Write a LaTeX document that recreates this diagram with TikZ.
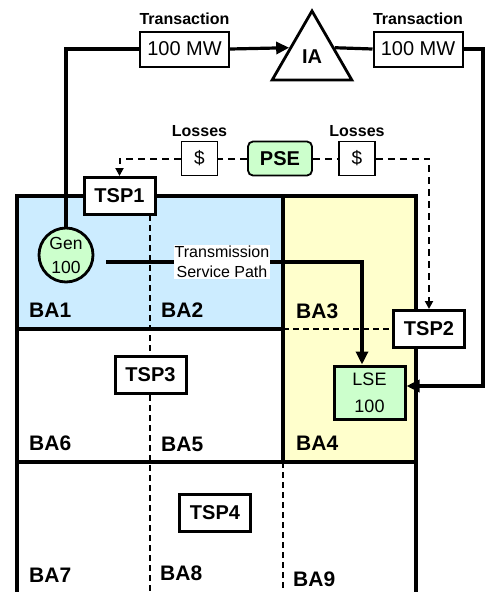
\documentclass[tikz,border=0pt]{standalone}
\usepackage{fontspec}
\setmainfont{Liberation Sans}
\usetikzlibrary{arrows.meta,positioning,shapes.geometric,calc}
\definecolor{baBlue}{HTML}{CCECFF}
\definecolor{baYellow}{HTML}{FFFFCC}
\definecolor{entGreen}{HTML}{CCFFCC}

\begin{document}
\begin{tikzpicture}[
  x=1pt, y=-1pt,
  tspbox/.style={rectangle, draw, line width=3pt, fill=white, minimum width=71pt, minimum height=37pt, inner sep=0pt, font=\fontsize{20}{24}\selectfont\bfseries},
  mwbox/.style={rectangle, draw, line width=2pt, fill=white, minimum width=89pt, minimum height=35pt, inner sep=0pt, font=\fontsize{20}{24}\selectfont},
  lossbox/.style={rectangle, draw, line width=1.5pt, fill=white, minimum width=36pt, minimum height=34pt, inner sep=0pt, font=\fontsize{19}{24}\selectfont},
  toplabel/.style={inner sep=0pt, font=\fontsize{16}{19}\selectfont\bfseries},
  balabel/.style={anchor=west, inner sep=0pt, font=\fontsize{21}{24}\selectfont\bfseries},
  baline/.style={line width=3.2pt},
  bacut/.style={line width=2pt, dash pattern=on 6pt off 4pt},
  arrow/.style={line width=3.2pt, -{Triangle[length=13pt,width=12pt]}},
  lossarrow/.style={line width=2pt, dash pattern=on 7pt off 5pt, -{Triangle[length=8pt,width=8pt]}}
]
\useasboundingbox (0,0) rectangle (490,592);

% balancing authority areas
\fill[baBlue] (17,196) rectangle (283,329);
\fill[baYellow] (283,196) rectangle (416,462);
\draw[baline] (17,594) -- (17,196) -- (416,196) -- (416,594);
\draw[baline] (17,329) -- (283,329);
\draw[baline] (17,462) -- (416,462);
\draw[baline] (283,196) -- (283,462);
\draw[bacut] (283,462) -- (283,594);
\draw[bacut] (150,215) -- (150,594);
\draw[bacut] (283,329) -- (400,329);

\node[balabel] (ba1) at (29,310) {BA1};
\node[balabel] (ba2) at (161,310) {BA2};
\node[balabel] (ba3) at (296,311) {BA3};
\node[balabel] (ba6) at (29,443) {BA6};
\node[balabel] (ba5) at (161,444) {BA5};
\node[balabel] (ba4) at (296,443) {BA4};
\node[balabel] (ba7) at (29,575) {BA7};
\node[balabel] (ba8) at (160,573) {BA8};
\node[balabel] (ba9) at (293,579) {BA9};

% transmission service providers
\node[tspbox] (tsp1) at (119.5,196) {TSP1};
\node[tspbox] (tsp2) at (429,329) {TSP2};
\node[tspbox] (tsp3) at (150.5,375) {TSP3};
\node[tspbox] (tsp4) at (215,513) {TSP4};

% generator and load
\node[circle, draw, line width=2.8pt, fill=entGreen, minimum size=54pt, inner sep=0pt, align=center,
  font=\fontsize{17.5}{24}\selectfont] (gen) at (66,255) {Gen\\100};
\node[rectangle, draw, line width=3pt, fill=entGreen, minimum width=71pt, minimum height=53pt, inner sep=0pt, align=center,
  font=\fontsize{18}{27}\selectfont] (lse) at (369.5,392.5) {LSE\\100};

% transaction
\node[regular polygon, regular polygon sides=3, draw, line width=2.8pt, fill=white, minimum size=92pt, inner sep=0pt,
  font=\fontsize{20}{24}\selectfont\bfseries] (ia) at (312,57) {IA};
\node[mwbox] (mw1) at (184.5,49) {100 MW};
\node[mwbox] (mw2) at (418,49) {100 MW};
\node[toplabel, above=6pt of mw1] (tr1) {Transaction};
\node[toplabel, above=6pt of mw2] (tr2) {Transaction};
\coordinate (iain) at ($(ia.corner 2)!0.46!(ia.corner 1)$);
\coordinate (iaout) at ($(ia.corner 3)!0.46!(ia.corner 1)$);
\coordinate (rtcorner) at (483,386);

\draw[line width=3.2pt] (gen.north) |- (mw1.west);
\draw[arrow] (mw1.east) -- (iain);
\draw[line width=3.2pt] (iaout) -- (mw2.west);
\draw[arrow] (mw2.east) -| (rtcorner) -- (rtcorner -| lse.east);

% losses
\node[rectangle, rounded corners=5pt, draw, line width=1.8pt, fill=entGreen, minimum width=64pt, minimum height=34pt, inner sep=0pt,
  font=\fontsize{20}{24}\selectfont\bfseries] (pse) at (280,158.5) {PSE};
\node[lossbox] (loss1) at (199.5,158.5) {\$};
\node[lossbox] (loss2) at (357,158.5) {\$};
\node[toplabel, above=4pt of loss1] (lb1) {Losses};
\node[toplabel, above=4pt of loss2] (lb2) {Losses};
\draw[lossarrow, -] (pse.west) -- (loss1.east);
\draw[lossarrow, -] (pse.east) -- (loss2.west);
\draw[lossarrow] (loss1.west) -| (tsp1.north);
\draw[lossarrow] (loss2.east) -| (tsp2.north);

% transmission service path
\coordinate (pathstart) at (106,262);
\coordinate (pathbend) at (362,262);
\draw[arrow] (pathstart) -- (pathbend) -- (pathbend |- lse.north);
\node[fill=white, inner sep=1pt, align=center, font=\fontsize{16}{20}\selectfont] (tsplabel) at (222,262) {Transmission\\Service Path};

\end{tikzpicture}
\end{document}
